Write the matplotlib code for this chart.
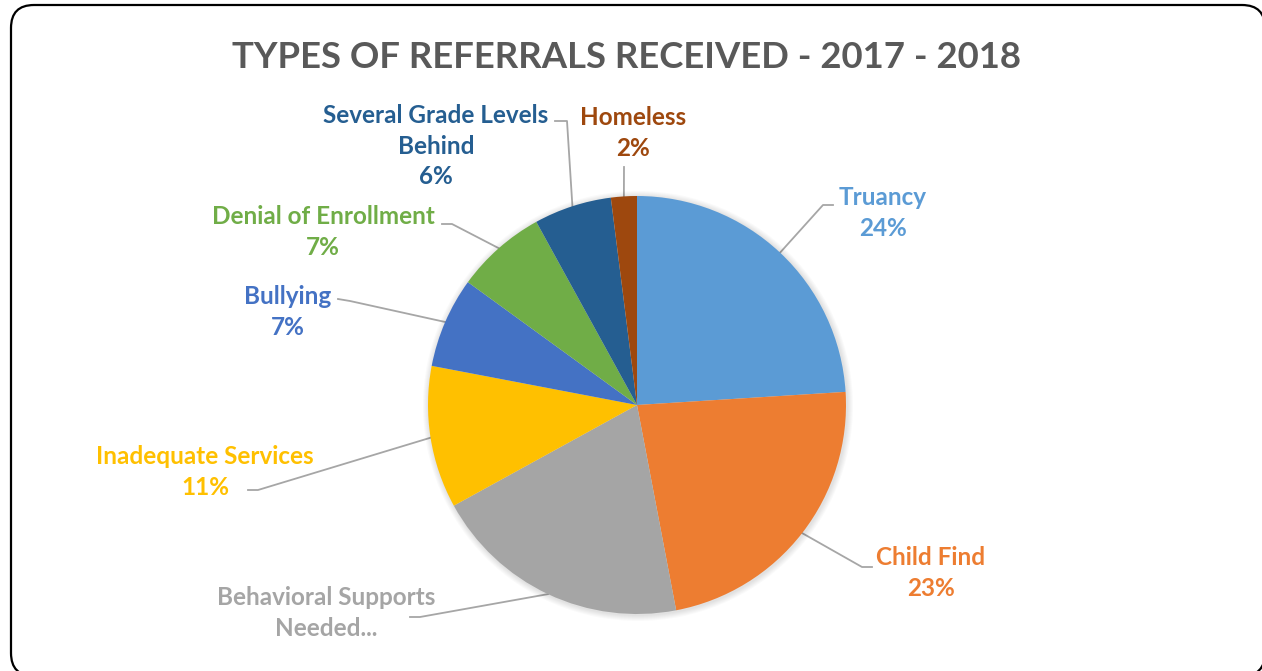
import numpy as np
import matplotlib.pyplot as plt
from matplotlib.patches import FancyBboxPatch, Circle

plt.rcParams['font.family'] = ['Lato', 'DejaVu Sans']

# referral types, clockwise from 12 o'clock
labels = ["Truancy", "Child Find", "Behavioral Supports\nNeeded...", "Inadequate Services",
          "Bullying", "Denial of Enrollment", "Several Grade Levels\nBehind", "Homeless"]
shares = [24, 23, 20, 11, 7, 7, 6, 2]
colors = ["#5B9BD5", "#ED7D31", "#A5A5A5", "#FFC000",
          "#4472C4", "#70AD47", "#255E91", "#9E480E"]
show_pct = [True, True, False, True, True, True, True, True]

W, H = 1262, 671
fig = plt.figure(figsize=(W / 100, H / 100), dpi=100)
ax = fig.add_axes([0, 0, 1, 1])

cx, cy, r = 637, H - 405, 209

# soft shadow round the pie
for k in range(1, 7):
    ax.add_patch(Circle((cx + 1, cy - 1), r + k, fc="black", ec="none",
                        alpha=0.018, zorder=0.8))

wedges, _ = ax.pie(shares, colors=colors, startangle=90, counterclock=False,
                   center=(cx, cy), radius=r, frame=True,
                   wedgeprops=dict(linewidth=0, zorder=1))
ax.set_xlim(0, W)
ax.set_ylim(0, H)
ax.set_aspect('equal')
ax.axis('off')

# rounded chart frame, running slightly past the right and bottom edges
frame = FancyBboxPatch((11, -5), 1254, 671, boxstyle="round,pad=0,rounding_size=23",
                       fc="white", ec="black", lw=1.6, zorder=0, clip_on=False)
ax.add_patch(frame)

ax.text(627, H - 57, "TYPES OF REFERRALS RECEIVED - 2017 - 2018", ha="center", va="center",
        fontsize=26.3, fontweight="bold", color="#595959")

# label text centre (pixels from top-left) and leader elbow points
label_pos = [(883, 213), (931, 573), (326, 613), (205, 472),
             (288, 312), (323, 232), (436, 146), (633, 133)]
elbows = [[(833, 205), (823, 205)],
          [(872, 567), (862, 567)],
          [(410, 617), (420, 617)],
          [(248, 490), (258, 490)],
          [(338, 299), (350, 301)],
          [(442, 224), (452, 224)],
          [(555, 121), (567, 121)],
          [(624, 167)]]

for w, lab, s, c, sp, pos, elb in zip(wedges, labels, shares, colors, show_pct, label_pos, elbows):
    txt = f"{lab}\n{s}%" if sp else lab
    ax.text(pos[0], H - pos[1], txt, ha="center", va="center", fontsize=17.5,
            fontweight="bold", color=c, linespacing=1.42)
    mid = np.deg2rad((w.theta1 + w.theta2) / 2)
    rim = (cx + r * np.cos(mid), cy + r * np.sin(mid))
    xs = [p[0] for p in elb] + [rim[0]]
    ys = [H - p[1] for p in elb] + [rim[1]]
    ax.plot(xs, ys, color="#A6A6A6", lw=1.3, zorder=0.5)

fig.savefig("out.png", dpi=100)
